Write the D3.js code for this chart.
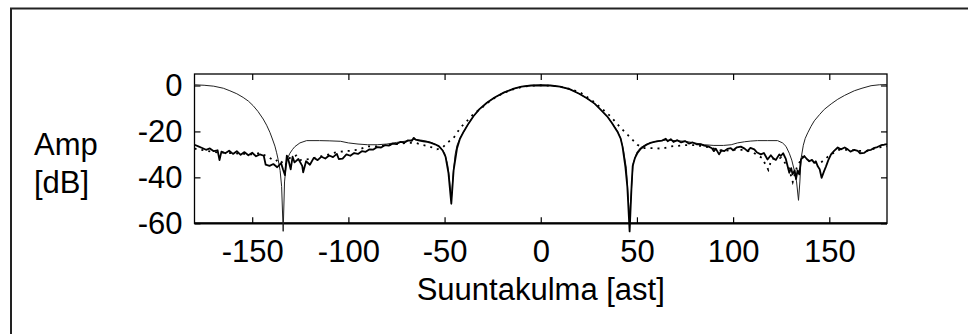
<!DOCTYPE html>
<html>
<head>
<meta charset="utf-8">
<script src="https://cdn.jsdelivr.net/npm/d3@7"></script>
<style>
  body { margin: 0; background: #fff; }
  svg { display: block; font-family: "Liberation Sans", Arial, sans-serif; }
</style>
</head>
<body>
<div id="chart"></div>
<script>
// chart size
let svgWidth = 968;
let svgHeight = 334;

// plot box (pixels)
let plot = { left: 194.5, right: 887, top: 74, bottom: 223.3 };

// tick values
let xTicks = [-150, -100, -50, 0, 50, 100, 150];
let yTicks = [0, -20, -40, -60];

// measured pattern (thick line) [angle deg, dB]
let measured = [
  [-180, -25.8], [-178, -26.5], [-176, -27.2], [-174, -28.0], [-172, -27.4], [-170, -28.6],
  [-168, -28.2], [-167, -32.5], [-166, -28.8], [-164, -29.5], [-162, -28.4], [-160, -29.8],
  [-158, -28.6], [-156, -30.2], [-154, -29.0], [-152, -30.4], [-150, -29.3], [-148, -30.8],
  [-146, -30.0], [-144, -30.6], [-143, -34.5], [-141, -35.0], [-139, -34.2], [-137, -35.6],
  [-135, -33.8], [-134, -36.5], [-133, -39.0], [-132, -30.5], [-131, -33.0], [-130, -36.5],
  [-129, -31.0], [-128, -33.5], [-126, -32.0], [-124, -35.0], [-123.5, -37.8], [-122, -33.0],
  [-120, -34.5], [-118, -31.5], [-116, -32.5], [-114, -31.0], [-112, -31.8], [-110, -30.5],
  [-108, -31.2], [-106, -29.8], [-105, -32.0], [-103, -31.8], [-101, -30.0], [-99, -30.6],
  [-97, -29.4], [-95, -29.8], [-93, -28.6], [-91, -28.9], [-89, -27.8], [-87, -27.9],
  [-85, -26.8], [-83, -27.0], [-81, -26.0], [-79, -26.2], [-77, -25.3], [-75, -25.5],
  [-73, -24.6], [-71, -24.9], [-69, -23.9], [-67, -24.1], [-66, -22.8], [-65, -23.6],
  [-63, -24.0], [-61, -24.3], [-59, -24.6], [-57, -25.0], [-55, -25.6], [-53, -26.4],
  [-51, -28.3], [-49.5, -31.0], [-48, -38.0], [-46.5, -51.5], [-45.3, -37.0], [-43.5, -27.3],
  [-42, -23.2], [-40, -20.0], [-37.5, -16.5], [-35, -13.4], [-32, -10.4], [-28, -7.5],
  [-24, -5.2], [-19, -3.0], [-14, -1.4], [-10, -0.5], [-5, 0.0], [0, 0.1],
  [5, 0.0], [10, -0.5], [15, -1.6], [20, -3.6], [24, -5.6], [28, -7.9],
  [31, -10.4], [34.5, -13.4], [37, -16.3], [39.8, -20.0], [41.5, -23.0], [42.5, -26.6],
  [44, -35.4], [45, -44.0], [46.2, -63.5], [47.2, -44.0], [47.8, -35.0], [49, -31.5],
  [50.2, -29.5], [52, -27.5], [53.6, -26.6], [55, -25.8], [57, -25.0], [59, -24.6],
  [61, -24.2], [63, -24.0], [65, -23.2], [66, -24.3], [67.6, -23.4], [69, -24.6],
  [71, -23.8], [73, -24.8], [75, -24.2], [77, -25.3], [79, -24.8], [81, -25.6],
  [83, -25.5], [85, -26.2], [87, -26.5], [89, -27.3], [90, -28.6], [91, -27.5],
  [92.7, -30.0], [94, -28.2], [95.3, -28.6], [97, -27.6], [98.8, -27.3], [100, -28.2],
  [102, -26.9], [104, -26.6], [106, -27.5], [107.5, -28.6], [109, -27.2], [111, -27.8],
  [112.5, -29.2], [114.4, -30.0], [116, -29.4], [117.9, -32.2], [119.6, -30.4], [121, -31.8],
  [122.2, -32.4], [124, -30.0], [124.8, -30.7], [126, -29.5], [127.4, -32.0], [129.2, -38.0],
  [130.2, -36.0], [130.9, -38.7], [132, -37.0], [132.7, -40.8], [133.5, -37.0], [134.4, -38.7],
  [135.3, -32.2], [137, -30.7], [138.3, -32.0], [139.6, -33.0], [141, -32.4], [142.2, -33.7],
  [143, -33.0], [144, -35.2], [145, -36.5], [146, -40.2], [147.2, -37.5], [148.3, -35.2],
  [149.5, -32.5], [150.9, -30.0], [152.5, -28.5], [154.4, -27.0], [156, -27.8], [158, -27.0],
  [159.6, -27.8], [161, -28.8], [163, -28.0], [164.8, -28.5], [166, -29.5], [168.2, -29.3],
  [170, -28.2], [171.7, -28.0], [173, -27.3], [175, -26.8], [176.9, -26.0], [178.5, -25.8],
  [180, -25.5]
];

// smooth pattern (thin line)
let smooth = [
  [-180, 0.3], [-175, 0.1], [-170, -0.3], [-165, -1.2], [-161.6, -2.3], [-158, -3.6],
  [-154.7, -5.2], [-152, -6.8], [-149.5, -8.8], [-147, -11.3], [-144.3, -14.6], [-142.5, -17.3],
  [-140.8, -20.4], [-139.5, -23.3], [-138.2, -26.4], [-137.3, -29.3], [-136.5, -32.3], [-135.5, -37.0],
  [-134.7, -44.0], [-133.9, -63.5], [-133.2, -42.0], [-132.4, -35.0], [-131.5, -31.5], [-130.4, -29.5],
  [-129, -27.8], [-127.8, -26.6], [-125.2, -25.0], [-121.7, -24.0], [-115, -24.0], [-110, -24.1],
  [-104, -24.3], [-100, -25.0], [-95, -25.5], [-90, -25.8], [-85, -25.8], [-80, -25.5],
  [-75, -24.8], [-70, -24.2], [-66, -23.5], [-62, -23.8], [-58, -24.5], [-55, -25.5],
  [-52, -27.0], [-50, -29.5], [-48.5, -34.0], [-47.5, -40.0], [-46.5, -50.0], [-45.5, -38.0],
  [-44.5, -30.0], [-43.5, -26.0], [-42, -23.0], [-40, -20.0], [-37.5, -16.5], [-35, -13.4],
  [-32, -10.4], [-28, -7.5], [-24, -5.2], [-19, -3.0], [-14, -1.4], [-10, -0.5],
  [-5, 0.0], [0, 0.1], [5, 0.0], [10, -0.5], [15, -1.6], [20, -3.6],
  [24, -5.6], [28, -7.9], [31, -10.4], [34.5, -13.4], [37, -16.3], [40, -20.0],
  [41.5, -23.0], [43, -28.0], [44.5, -36.0], [46.2, -58.0], [48, -34.0], [50, -29.0],
  [52, -27.0], [55, -25.5], [60, -24.3], [65, -23.8], [70, -24.0], [75, -24.3],
  [80, -25.0], [85, -25.8], [90, -26.1], [95, -26.1], [99, -25.8], [102.3, -25.0],
  [106, -24.5], [109.2, -24.2], [112.7, -24.0], [118, -24.0], [123.1, -24.0], [125.7, -25.0],
  [127.5, -26.5], [129.2, -29.5], [130.5, -32.5], [131.8, -36.9], [133, -42.0], [134, -50.0],
  [134.7, -42.0], [135.3, -32.0], [136.5, -26.0], [137.5, -23.0], [138.8, -20.6], [140.5, -17.8],
  [142.2, -15.4], [145, -12.6], [147.4, -10.4], [151, -8.0], [154.4, -6.0], [158, -4.3],
  [163, -2.3], [167, -1.2], [171.7, -0.1], [176, 0.3], [180, 0.4]
];

// reference pattern (dotted line)
let reference = [
  [-180, -27.5], [-170, -29.0], [-160, -29.5], [-150, -30.0], [-146, -29.4], [-142, -31.0],
  [-138, -33.0], [-136, -32.0], [-133, -35.0], [-130, -31.0], [-127, -30.5], [-125, -32.5],
  [-120, -32.0], [-115, -31.0], [-110, -30.0], [-106, -29.0], [-100, -28.5], [-95, -28.0],
  [-90, -26.5], [-85, -26.5], [-80, -26.0], [-75, -25.5], [-70, -25.0], [-65, -25.0],
  [-61, -26.0], [-58, -26.5], [-54, -27.8], [-51, -27.0], [-48.7, -25.0], [-45.3, -22.8],
  [-41.8, -18.4], [-38.3, -15.4], [-35, -12.5], [-30.5, -9.6], [-26.2, -6.6], [-20, -3.5],
  [-15, -1.8], [-10, -0.7], [-5, -0.1], [0, 0.1], [5, -0.1], [10, -0.5],
  [15, -1.5], [20.7, -3.1], [23.5, -4.7], [26.8, -6.6], [31.1, -9.6], [36.3, -13.4],
  [41.5, -18.4], [46.7, -22.8], [50.2, -25.8], [54, -27.3], [58.8, -27.3], [63, -27.5],
  [68, -26.5], [75, -26.0], [80, -26.0], [85, -26.5], [90, -27.5], [95, -28.5],
  [100, -28.0], [105, -28.0], [110, -29.0], [115, -31.5], [118.3, -36.7], [120, -32.0],
  [125, -31.5], [129, -36.0], [131, -42.0], [133, -36.0], [136, -31.0], [140, -33.0],
  [145, -34.0], [150, -30.5], [155, -28.0], [160, -28.0], [165, -28.5], [170, -28.5],
  [175, -27.0], [180, -26.5]
];

let svg = d3.select('#chart')
    .append('svg')
    .attr('width', svgWidth)
    .attr('height', svgHeight);

// outer figure border (top and left only visible)
svg.append('path')
    .attr('d', `M11,${svgHeight} L11,8.5 L${svgWidth},8.5`)
    .attr('fill', 'none')
    .attr('stroke', '#222')
    .attr('stroke-width', 2);

let xScale = d3.scaleLinear().domain([-180, 180]).range([plot.left, plot.right]);
let yScale = d3.scaleLinear().domain([-60, 5]).range([plot.bottom, plot.top]);

let fontSize = 31;
// plain hyphen for negatives, like the original
let fmt = d => String(d);

// axes with inward ticks
let bottomAxis = d3.axisBottom(xScale).tickValues(xTicks).tickSize(-6).tickSizeOuter(0).tickPadding(16.5).tickFormat(fmt);
let topAxis = d3.axisTop(xScale).tickValues(xTicks).tickSize(-6).tickSizeOuter(0).tickFormat('');
let leftAxis = d3.axisLeft(yScale).tickValues(yTicks).tickSize(-6).tickSizeOuter(0).tickPadding(12).tickFormat(fmt);
let rightAxis = d3.axisRight(yScale).tickValues(yTicks).tickSize(-6).tickSizeOuter(0).tickFormat('');

function styleAxis(g) {
    g.select('.domain').remove();
    g.selectAll('line').attr('stroke', '#000').attr('stroke-width', 1.2);
    g.selectAll('text')
        .attr('fill', '#000')
        .style('font-size', fontSize + 'px')
        .style('font-family', '"Liberation Sans", Arial, sans-serif');
}

svg.append('g').attr('transform', `translate(0,${plot.bottom})`).call(bottomAxis).call(styleAxis);
svg.append('g').attr('transform', `translate(0,${plot.top})`).call(topAxis).call(styleAxis);
svg.append('g').attr('transform', `translate(${plot.left},0)`).call(leftAxis).call(styleAxis);
svg.append('g').attr('transform', `translate(${plot.right},0)`).call(rightAxis).call(styleAxis);

// plot frame
svg.append('rect')
    .attr('x', plot.left)
    .attr('y', plot.top)
    .attr('width', plot.right - plot.left)
    .attr('height', plot.bottom - plot.top)
    .attr('fill', 'none')
    .attr('stroke', '#000')
    .attr('stroke-width', 1.3);
svg.append('line')
    .attr('x1', plot.left).attr('x2', plot.right)
    .attr('y1', plot.bottom).attr('y2', plot.bottom)
    .attr('stroke', '#000')
    .attr('stroke-width', 2.2);

let line = d3.line()
    .x(d => xScale(d[0]))
    .y(d => yScale(d[1]));

svg.append('path')
    .datum(reference)
    .attr('d', line)
    .attr('fill', 'none')
    .attr('stroke', '#000')
    .attr('stroke-width', 1.8)
    .attr('stroke-dasharray', '2,5');

svg.append('path')
    .datum(smooth)
    .attr('d', line)
    .attr('fill', 'none')
    .attr('stroke', '#222')
    .attr('stroke-width', 1);

svg.append('path')
    .datum(measured)
    .attr('d', line)
    .attr('fill', 'none')
    .attr('stroke', '#000')
    .attr('stroke-width', 1.8)
    .attr('stroke-linejoin', 'round');

// axis titles
let labels = svg.append('g')
    .style('font-size', fontSize + 'px')
    .attr('fill', '#000');

labels.append('text').attr('x', 34).attr('y', 155).text('Amp');
labels.append('text').attr('x', 34).attr('y', 193).text('[dB]');
labels.append('text')
    .attr('x', (plot.left + plot.right) / 2)
    .attr('y', 300)
    .attr('text-anchor', 'middle')
    .text('Suuntakulma [ast]');
</script>
</body>
</html>
